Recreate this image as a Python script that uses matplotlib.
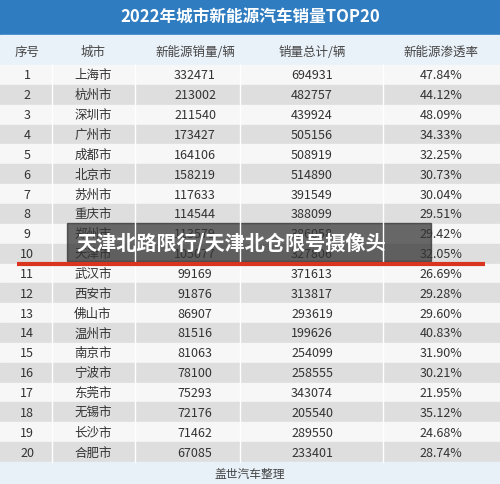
import matplotlib
matplotlib.use("Agg")
import matplotlib.pyplot as plt
from matplotlib.patches import Rectangle

plt.rcParams['font.family'] = ['Noto Sans CJK SC', 'DejaVu Sans']

title = "2022年城市新能源汽车销量TOP20"
headers = ["序号", "城市", "新能源销量/辆", "销量总计/辆", "新能源渗透率"]
ranks = list(range(1, 21))
cities = ["上海市", "杭州市", "深圳市", "广州市", "成都市", "北京市", "苏州市", "重庆市", "郑州市", "天津市",
          "武汉市", "西安市", "佛山市", "温州市", "南京市", "宁波市", "东莞市", "无锡市", "长沙市", "合肥市"]
nev_sales = [332471, 213002, 211540, 173427, 164106, 158219, 117633, 114544, 113579, 105077,
             99169, 91876, 86907, 81516, 81063, 78100, 75293, 72176, 71462, 67085]
total_sales = [694931, 482757, 439924, 505156, 508919, 514890, 391549, 388099, 386058, 327806,
               371613, 313817, 293619, 199626, 254099, 258555, 343074, 205540, 289550, 233401]
penetration = ["47.84%", "44.12%", "48.09%", "34.33%", "32.25%", "30.73%", "30.04%", "29.51%", "29.42%", "32.05%",
               "26.69%", "29.28%", "29.60%", "40.83%", "31.90%", "30.21%", "21.95%", "35.12%", "24.68%", "28.74%"]
footer = "盖世汽车整理"
overlay = "天津北路限行/天津北仓限号摄像头"

W, H = 500, 485
fig = plt.figure(figsize=(5, 4.85), dpi=100)
ax = fig.add_axes([0, 0, 1, 1])
ax.set_xlim(0, W); ax.set_ylim(H, 0); ax.axis('off')

col_x = [27, 93, 195, 312, 441]
ax.add_patch(Rectangle((0, 0), W, 36, color='#2f7dc0'))
ax.text(W/2, 18, title, color='white', fontsize=12, fontweight='bold', ha='center', va='center')
ax.add_patch(Rectangle((0, 36), W, 30, color='#eaf2f9'))
for x, h in zip(col_x, headers):
    ax.text(x, 52, h, fontsize=9, color='#444444', ha='center', va='center')

y0, rh = 66, 19.85
for i in range(20):
    top = y0 + i * rh
    ax.add_patch(Rectangle((0, top), W, rh, color='#dedede' if i % 2 == 1 else '#f7f7f7'))
    vals = [str(ranks[i]), cities[i], str(nev_sales[i]), str(total_sales[i]), penetration[i]]
    for x, v in zip(col_x, vals):
        ax.text(x, top + rh/2, v, fontsize=9, color='#333333', ha='center', va='center')
for x in [52, 135, 240, 383]:
    ax.plot([x, x], [66, y0 + 20*rh], color='white', lw=1)

fy = y0 + 20 * rh
ax.add_patch(Rectangle((0, fy), W, H - fy, color='#e8f1f8'))
ax.text(W/2, (fy + H)/2 + 1, footer, fontsize=8.5, color='#444444', ha='center', va='center')

ax.plot([17, 485], [265, 265], color='#d9341e', lw=3, solid_capstyle='butt')
ax.add_patch(Rectangle((67, 224), 364, 38, color='#2a2a2a', alpha=0.7))
ax.text(76, 243, overlay, fontsize=14.5, fontweight='bold', color='white', ha='left', va='center')

fig.savefig("out.png", dpi=100)
